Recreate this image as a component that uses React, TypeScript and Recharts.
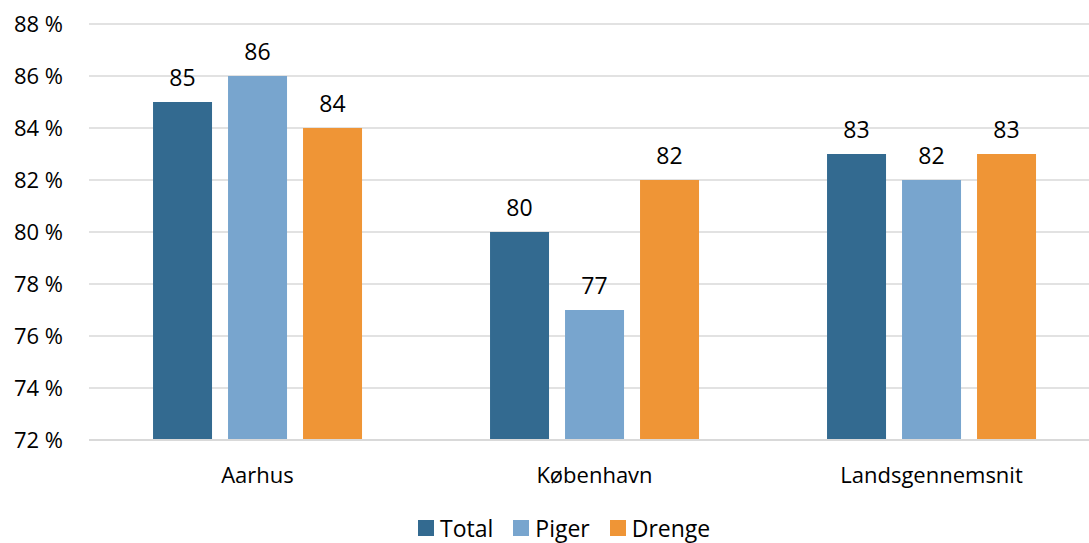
import { BarChart, Bar, XAxis, YAxis, CartesianGrid, Legend, LabelList } from "recharts";

const categories = ["Aarhus", "København", "Landsgennemsnit"];
const total = [85, 80, 83];
const piger = [86, 77, 82];
const drenge = [84, 82, 83];
const yTicks = [72, 74, 76, 78, 80, 82, 84, 86, 88];

const series = [
  { key: "total", name: "Total", color: "#336A90" },
  { key: "piger", name: "Piger", color: "#78A5CE" },
  { key: "drenge", name: "Drenge", color: "#EF9536" },
];

const data = categories.map((name, i) => ({
  name,
  total: total[i],
  piger: piger[i],
  drenge: drenge[i],
}));

const FONT = "'Open Sans', 'Noto Sans', sans-serif";

// legend kept in the series order (recharts would sort it)
const renderLegend = () => (
  <div style={{ display: "flex", alignItems: "center", height: 30, lineHeight: "30px", fontFamily: FONT, fontSize: 23, color: "#000" }}>
    {series.map((s) => (
      <div key={s.key} style={{ display: "flex", alignItems: "center", marginRight: 20 }}>
        <span style={{ width: 16, height: 16, background: s.color, display: "inline-block", marginRight: 6 }} />
        <span>{s.name}</span>
      </div>
    ))}
  </div>
);

export default function App() {
  return (
    <div style={{ position: "fixed", left: 0, top: 0, width: 1089, height: 543, background: "#fff", overflow: "hidden", fontFamily: FONT }}>
      <BarChart
        width={1100}
        height={543}
        data={data}
        margin={{ top: 24, right: 0, left: 0, bottom: 0 }}
        barGap={16}
        barCategoryGap="19%"
      >
        <CartesianGrid vertical={false} stroke="#D9D9D9" strokeWidth={1.5} />
        <XAxis
          dataKey="name"
          height={73}
          tickLine={false}
          axisLine={{ stroke: "#D9D9D9", strokeWidth: 2 }}
          tickMargin={21}
          tick={{ fill: "#000", fontSize: 22, fontFamily: FONT }}
        />
        <YAxis
          width={89}
          domain={[72, 88]}
          ticks={yTicks}
          interval={0}
          allowDataOverflow
          tickFormatter={(v) => `${v} %`}
          tickLine={false}
          axisLine={false}
          tickSize={0}
          tickMargin={26}
          tick={{ fill: "#000", fontSize: 22, fontFamily: FONT }}
        />
        <Legend
          verticalAlign="bottom"
          align="left"
          height={30}
          content={renderLegend}
          wrapperStyle={{ left: 418, width: "auto", bottom: 0 }}
        />
        {series.map((s) => (
          <Bar key={s.key} dataKey={s.key} name={s.name} fill={s.color} isAnimationActive={false}>
            <LabelList dataKey={s.key} position="top" offset={16} fill="#000" fontSize={23} fontFamily={FONT} />
          </Bar>
        ))}
      </BarChart>
    </div>
  );
}
